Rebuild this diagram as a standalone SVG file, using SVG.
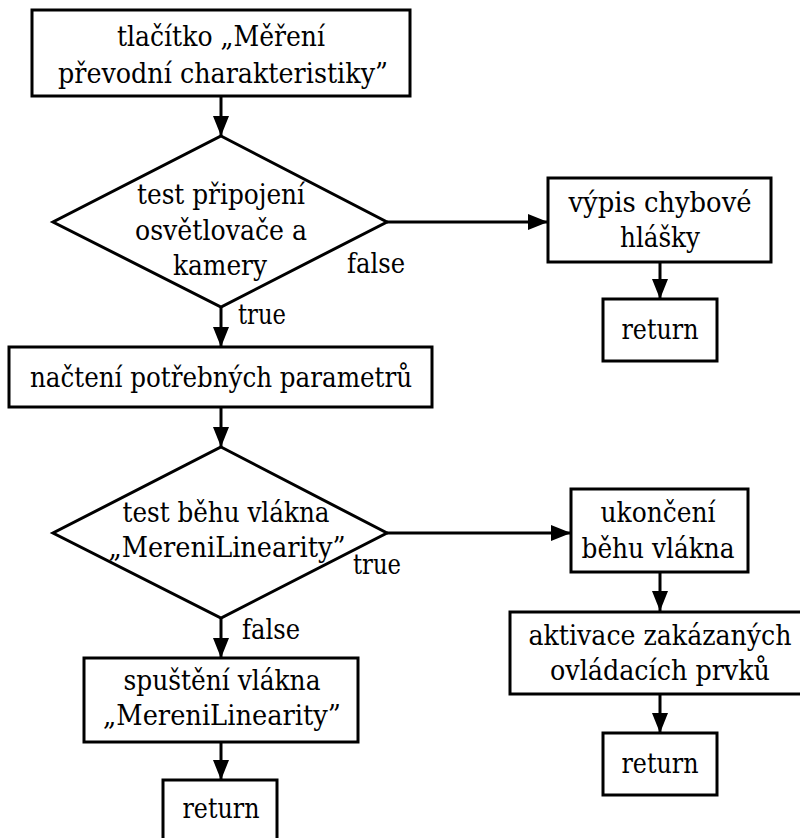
<svg xmlns="http://www.w3.org/2000/svg" width="800" height="838" viewBox="0 0 800 838">
<defs>
<marker id="ah" markerUnits="userSpaceOnUse" markerWidth="20" markerHeight="16" refX="20" refY="8" orient="auto">
<path d="M0,0 L20,8 L0,16 z" fill="#000"/>
</marker>
<style>
.n{fill:#fff;stroke:#000;stroke-width:3}
text{font-family:"DejaVu Serif","Liberation Serif",serif;font-size:28px;font-stretch:condensed;fill:#000}
.t{text-anchor:middle}
.c{stroke:#000;stroke-width:3;fill:none;marker-end:url(#ah)}
</style>
</defs>
<rect width="800" height="838" fill="#fff"/>
<g id="connectors">
<line class="c" x1="221" y1="97" x2="221" y2="136"/>
<line class="c" x1="387" y1="222" x2="548" y2="222"/>
<line class="c" x1="221" y1="307" x2="221" y2="347"/>
<line class="c" x1="660" y1="262" x2="660" y2="299"/>
<line class="c" x1="221" y1="407" x2="221" y2="447"/>
<line class="c" x1="387" y1="533" x2="571" y2="533"/>
<line class="c" x1="221" y1="618" x2="221" y2="658"/>
<line class="c" x1="221" y1="742" x2="221" y2="780"/>
<line class="c" x1="660" y1="572" x2="660" y2="611"/>
<line class="c" x1="660" y1="694" x2="660" y2="733"/>
<text x="347" y="273" textLength="58" lengthAdjust="spacingAndGlyphs">false</text>
<text x="238" y="324" textLength="48" lengthAdjust="spacingAndGlyphs">true</text>
<text x="353" y="574" textLength="48" lengthAdjust="spacingAndGlyphs">true</text>
<text x="242" y="639" textLength="58" lengthAdjust="spacingAndGlyphs">false</text>
</g>
<g id="start">
<rect class="n" x="32" y="10" width="378" height="86"/>
<text class="t" x="221" y="46" textLength="208" lengthAdjust="spacingAndGlyphs">tlačítko „Měření</text>
<text class="t" x="223" y="83" textLength="330" lengthAdjust="spacingAndGlyphs">převodní charakteristiky”</text>
</g>
<g id="test1">
<polygon class="n" points="221,136 387,222 221,307 53,222"/>
<text class="t" x="221" y="204" textLength="168" lengthAdjust="spacingAndGlyphs">test připojení</text>
<text class="t" x="221" y="240" textLength="172" lengthAdjust="spacingAndGlyphs">osvětlovače a</text>
<text class="t" x="220" y="275" textLength="94" lengthAdjust="spacingAndGlyphs">kamery</text>
</g>
<g id="error">
<rect class="n" x="548" y="178" width="223" height="84"/>
<text class="t" x="660" y="212" textLength="183" lengthAdjust="spacingAndGlyphs">výpis chybové</text>
<text class="t" x="660" y="247" textLength="80" lengthAdjust="spacingAndGlyphs">hlášky</text>
</g>
<g id="return1">
<rect class="n" x="603" y="299" width="114" height="62"/>
<text class="t" x="660" y="339" textLength="77" lengthAdjust="spacingAndGlyphs">return</text>
</g>
<g id="load">
<rect class="n" x="9" y="347" width="423" height="60"/>
<text class="t" x="221" y="387" textLength="382" lengthAdjust="spacingAndGlyphs">načtení potřebných parametrů</text>
</g>
<g id="test2">
<polygon class="n" points="221,447 387,533 221,618 53,533"/>
<text class="t" x="226" y="522" textLength="207" lengthAdjust="spacingAndGlyphs">test běhu vlákna</text>
<text class="t" x="227" y="557" textLength="237" lengthAdjust="spacingAndGlyphs">„MereniLinearity”</text>
</g>
<g id="stop">
<rect class="n" x="571" y="489" width="177" height="83"/>
<text class="t" x="658" y="522" textLength="115" lengthAdjust="spacingAndGlyphs">ukončení</text>
<text class="t" x="658" y="558" textLength="153" lengthAdjust="spacingAndGlyphs">běhu vlákna</text>
</g>
<g id="activate">
<rect class="n" x="510" y="612" width="300" height="82"/>
<text class="t" x="660" y="645" textLength="263" lengthAdjust="spacingAndGlyphs">aktivace zakázaných</text>
<text class="t" x="660" y="680" textLength="220" lengthAdjust="spacingAndGlyphs">ovládacích prvků</text>
</g>
<g id="return2">
<rect class="n" x="603" y="733" width="114" height="62"/>
<text class="t" x="660" y="773" textLength="77" lengthAdjust="spacingAndGlyphs">return</text>
</g>
<g id="run">
<rect class="n" x="84" y="658" width="274" height="84"/>
<text class="t" x="222" y="690" textLength="197" lengthAdjust="spacingAndGlyphs">spuštění vlákna</text>
<text class="t" x="222" y="725" textLength="238" lengthAdjust="spacingAndGlyphs">„MereniLinearity”</text>
</g>
<g id="return3">
<rect class="n" x="163" y="780" width="114" height="70"/>
<text class="t" x="221" y="818" textLength="77" lengthAdjust="spacingAndGlyphs">return</text>
</g>
</svg>
